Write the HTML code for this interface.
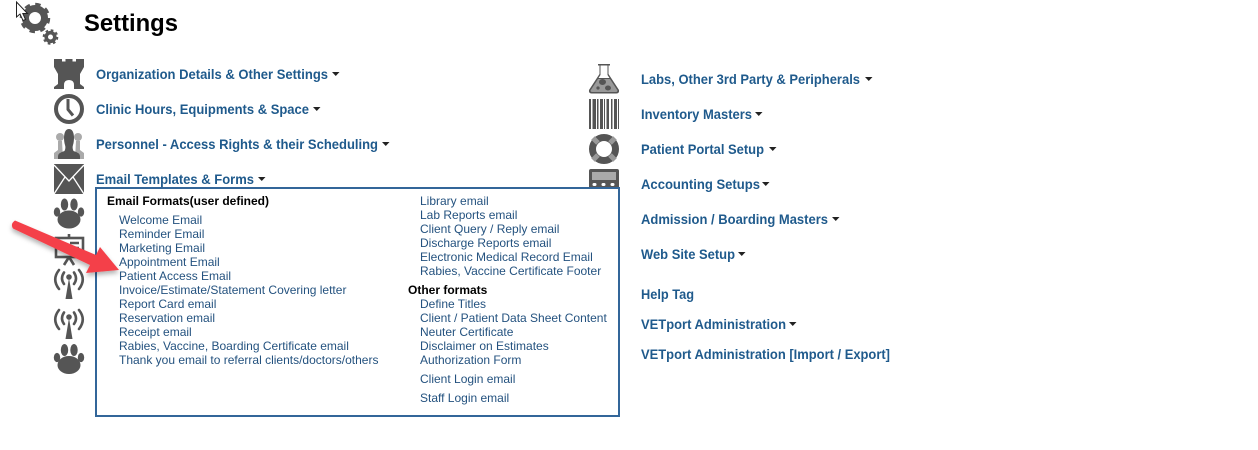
<!DOCTYPE html>
<html><head><meta charset="utf-8"><style>
html,body{margin:0;padding:0;background:#fff;width:1258px;height:450px;overflow:hidden}
svg{display:block}
text{font-family:"Liberation Sans",sans-serif}
.h{font-size:14px;font-weight:bold;fill:#1f5a8c}
.i{font-size:12px;fill:#24527f}
.b{font-size:12px;font-weight:bold;fill:#000}
</style></head><body>
<svg width="1258" height="450" viewBox="0 0 1258 450" xmlns="http://www.w3.org/2000/svg">
<defs>
<filter id="s" x="-20%" y="-20%" width="140%" height="150%"><feDropShadow dx="0" dy="3" stdDeviation="2.5" flood-color="#000" flood-opacity=".3"/></filter>
<g id="paw" fill="#555"><ellipse cx="15" cy="21" rx="11.500" ry="9"/><ellipse cx="10.500" cy="6" rx="3.700" ry="6"/><ellipse cx="20" cy="6" rx="3.700" ry="6"/><ellipse cx="3" cy="13.500" rx="3.200" ry="4.600"/><ellipse cx="27" cy="13.500" rx="3.200" ry="4.600"/></g>
<g id="ant" fill="none" stroke="#555" stroke-width="2.600" stroke-linecap="round"><path d="M15 9L11.500 30H18.500Z" fill="#555" stroke="none"/><circle cx="15" cy="8" r="2.800" fill="#555" stroke="none"/><path d="M10 3.500Q6 9.500 10 15M20 3.500Q24 9.500 20 15M5 1Q-2.500 10.500 5 20M25 1Q32.500 10.500 25 20"/></g>
</defs>

<!-- gears -->
<g fill="none" stroke="#555">
<circle cx="35" cy="18" r="9.500" stroke-width="7"/>
<circle cx="35" cy="18" r="13.500" stroke-width="3.500" stroke-dasharray="5.300 5.300"/>
<circle cx="50.500" cy="37" r="4.300" stroke-width="3.600"/>
<circle cx="50.500" cy="37" r="6.800" stroke-width="2" stroke-dasharray="2.670 2.670"/>
</g>
<path d="M16.500 2V17L20 14L23 20.500L25.500 19.500L22.800 13.500H27.500Z" fill="#fff" stroke="#222" stroke-width="1"/>
<text x="84" y="31" font-size="24" font-weight="bold" fill="#000" textLength="94" lengthAdjust="spacingAndGlyphs">Settings</text>

<!-- left icons -->
<path d="M54 59h8v2.500h3.500v-2.500h7v2.500h3.500v-2.500h8v8L80 74V84L84 87V89H74V85Q74 80 69 80T64 85V89H54V87L58 84V74L54 67Z" fill="#555"/>
<circle cx="69" cy="109" r="13" fill="#fff" stroke="#555" stroke-width="4"/>
<path d="M68 99v10.500l5 6" fill="none" stroke="#555" stroke-width="3"/>
<g fill="#aaa"><circle cx="60" cy="137" r="4"/><path d="M54 159v-6l4-3v-9h4l1 18z"/><circle cx="78" cy="137" r="4"/><path d="M84 159v-6l-4-3v-9h-4l-1 18z"/></g>
<path d="M58 159v-3q0-3 6.500-5q1.500-3 .5-6q-1-3-1-8q.5-8 5-8t5 8q0 5-1 8q-1 3 .5 6q6.500 2 6.500 5v3z" fill="#555"/>
<rect x="54" y="164" width="30" height="30" fill="#555"/>
<path d="M54 165L69 181L84 165M54 194L65 177M84 194L73 177" fill="none" stroke="#fff" stroke-width="1.300"/>
<use href="#paw" x="54" y="198.500"/>
<g fill="none" stroke="#555" stroke-width="2.600"><rect x="56" y="238" width="27" height="19"/><path d="M69 234v4M69 257l-5 8M69 257l5 8"/><path d="M70 243h9M70 248h9"/></g>
<use href="#ant" x="54" y="269"/>
<use href="#ant" x="54" y="309"/>
<use href="#paw" x="54" y="344"/>

<!-- right icons -->
<path d="M598 64h12v1.500h-1.500V74L619 90q.5 3.500-2.500 3.500h-25q-3 0-2.500-3.500l10.500-16V65.500H598z" fill="#555"/>
<path d="M600.500 65.500h7V75l2 3h-11l2-3z" fill="#fff"/>
<path d="M598 79h12l7.500 11.500q0 1.500-1.500 1.500h-24q-1.500 0-1.500-1.500z" fill="#999"/>
<ellipse cx="602.500" cy="82" rx="3.500" ry="3" fill="#555"/><ellipse cx="608" cy="88" rx="3" ry="2.500" fill="#555"/><circle cx="598" cy="88" r="1.600" fill="#555"/>
<g fill="#555"><rect x="589" y="99" width="2" height="30"/><rect x="592.500" y="99" width="3.500" height="30"/><rect x="597" y="99" width="1.500" height="30"/><rect x="600" y="99" width="3" height="30"/><rect x="604" y="99" width="1" height="30"/><rect x="606.500" y="99" width="2.500" height="30"/><rect x="611" y="99" width="1.500" height="30"/><rect x="614" y="99" width="3" height="30"/><rect x="618" y="99" width="1" height="30"/></g>
<circle cx="604" cy="149" r="11.500" fill="none" stroke="#555" stroke-width="7"/>
<path d="M593 138l5 5M615 138l-5 5M593 160l5-5M615 160l-5-5" stroke="#999" stroke-width="5" fill="none"/>
<rect x="589" y="169" width="30" height="22" rx="2" fill="#555"/>
<rect x="592" y="172" width="24" height="8" fill="#aaa"/>
<g fill="#fff"><rect x="592.500" y="183" width="4" height="3" rx="1.500"/><rect x="601.500" y="183" width="4" height="3" rx="1.500"/><rect x="610.500" y="183" width="4" height="3" rx="1.500"/></g>

<!-- menu headings -->
<text class="h" x="96" y="79" textLength="232" lengthAdjust="spacingAndGlyphs">Organization Details &amp; Other Settings</text>
<text class="h" x="96" y="114" textLength="213" lengthAdjust="spacingAndGlyphs">Clinic Hours, Equipments &amp; Space</text>
<text class="h" x="96" y="149" textLength="282" lengthAdjust="spacingAndGlyphs">Personnel - Access Rights &amp; their Scheduling</text>
<text class="h" x="96" y="184" textLength="158" lengthAdjust="spacingAndGlyphs">Email Templates &amp; Forms</text>
<text class="h" x="641" y="84" textLength="219" lengthAdjust="spacingAndGlyphs">Labs, Other 3rd Party &amp; Peripherals</text>
<text class="h" x="641" y="119" textLength="111" lengthAdjust="spacingAndGlyphs">Inventory Masters</text>
<text class="h" x="641" y="154" textLength="123" lengthAdjust="spacingAndGlyphs">Patient Portal Setup</text>
<text class="h" x="641" y="189" textLength="119" lengthAdjust="spacingAndGlyphs">Accounting Setups</text>
<text class="h" x="641" y="224" textLength="187" lengthAdjust="spacingAndGlyphs">Admission / Boarding Masters</text>
<text class="h" x="641" y="259" textLength="94" lengthAdjust="spacingAndGlyphs">Web Site Setup</text>
<text class="h" x="641" y="299" textLength="53" lengthAdjust="spacingAndGlyphs">Help Tag</text>
<text class="h" x="641" y="329" textLength="145" lengthAdjust="spacingAndGlyphs">VETport Administration</text>
<text class="h" x="641" y="359" textLength="249" lengthAdjust="spacingAndGlyphs">VETport Administration [Import / Export]</text>
<g fill="#222">
<path d="M332 72h7.500l-3.750 4z"/><path d="M313 107h7.500l-3.750 4z"/><path d="M382 142h7.500l-3.750 4z"/><path d="M258 177h7.500l-3.750 4z"/>
<path d="M865 77h7.500l-3.750 4z"/><path d="M755 112h7.500l-3.750 4z"/><path d="M769 147h7.500l-3.750 4z"/><path d="M762 182h7.500l-3.750 4z"/><path d="M832 217h7.500l-3.750 4z"/><path d="M738 252h7.500l-3.750 4z"/><path d="M789 322h7.500l-3.750 4z"/>
</g>

<!-- popup -->
<rect x="96" y="188" width="523" height="228" fill="#fff" stroke="#336699" stroke-width="2"/>
<text class="b" x="107" y="205" textLength="162">Email Formats(user defined)</text>
<text class="i" x="119" y="224">Welcome Email</text>
<text class="i" x="119" y="238">Reminder Email</text>
<text class="i" x="119" y="252">Marketing Email</text>
<text class="i" x="119" y="266">Appointment Email</text>
<text class="i" x="119" y="280">Patient Access Email</text>
<text class="i" x="119" y="294">Invoice/Estimate/Statement Covering letter</text>
<text class="i" x="119" y="308">Report Card email</text>
<text class="i" x="119" y="322">Reservation email</text>
<text class="i" x="119" y="336">Receipt email</text>
<text class="i" x="119" y="350">Rabies, Vaccine, Boarding Certificate email</text>
<text class="i" x="119" y="364">Thank you email to referral clients/doctors/others</text>
<text class="i" x="420" y="205">Library email</text>
<text class="i" x="420" y="219">Lab Reports email</text>
<text class="i" x="420" y="233">Client Query / Reply email</text>
<text class="i" x="420" y="247">Discharge Reports email</text>
<text class="i" x="420" y="261">Electronic Medical Record Email</text>
<text class="i" x="420" y="275">Rabies, Vaccine Certificate Footer</text>
<text class="b" x="408" y="294">Other formats</text>
<text class="i" x="420" y="308">Define Titles</text>
<text class="i" x="420" y="322">Client / Patient Data Sheet Content</text>
<text class="i" x="420" y="336">Neuter Certificate</text>
<text class="i" x="420" y="350">Disclaimer on Estimates</text>
<text class="i" x="420" y="364">Authorization Form</text>
<text class="i" x="420" y="383">Client Login email</text>
<text class="i" x="420" y="402">Staff Login email</text>

<!-- red arrow -->
<path d="M15 220.500Q10 224 13 228.500L90 265L86 273L119 270L100 247L96 255Z" fill="#f4414a" filter="url(#s)"/>
</svg>
</body></html>
